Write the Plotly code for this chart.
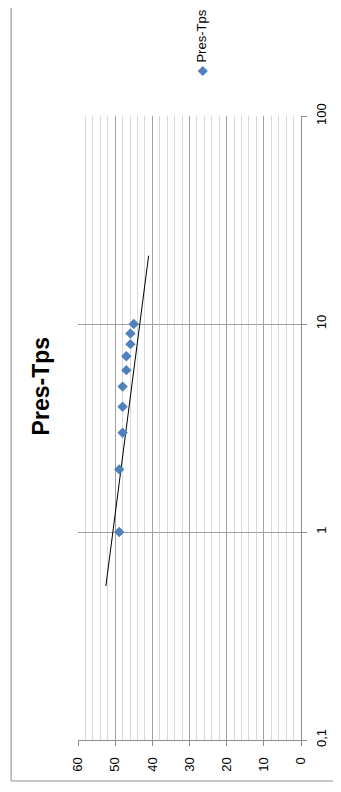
import plotly.graph_objects as go

# Data (time on log axis, pressure values)
tps = [1, 2, 3, 4, 5, 6, 7, 8, 9, 10]
pres = [48.9, 48.9, 48.0, 48.0, 48.0, 47.0, 47.0, 45.9, 45.9, 45.0]
trend_tps = [0.55, 21.3]
trend_pres = [52.5, 41.0]
val_ticks = [0, 10, 20, 30, 40, 50, 60]
log_tickvals = [0.1, 1, 10, 100]
log_ticktext = ["0,1", "1", "10", "100"]

BLUE = "#4F81BD"
GRID = "#A0A0A0"
AXIS = "#8C8C8C"
MINOR = "#D9D9D9"
FONT = "Liberation Sans, Arial, sans-serif"

OFF = 8  # browser body margin
W, H = 341 - OFF, 792 - OFF
L, R, T, B = 77.7 - OFF, 303.3 - OFF, 115.7 - OFF, 740 - OFF


def px(x):
    return (x - OFF - L) / (R - L)


def py(y):
    return (B - (y - OFF)) / (B - T)


fig = go.Figure()
fig.add_trace(go.Scatter(
    x=trend_pres, y=trend_tps, mode="lines",
    line=dict(color="black", width=1), showlegend=False, hoverinfo="skip"))
fig.add_trace(go.Scatter(
    x=pres, y=tps, mode="markers", name="Pres-Tps",
    marker=dict(symbol="diamond", size=8, color=BLUE, line=dict(width=0)),
    showlegend=False))

fig.update_layout(
    width=W, height=H,
    margin=dict(l=L, r=W - R, t=T, b=H - B, pad=0),
    paper_bgcolor="white", plot_bgcolor="white",
    font=dict(family=FONT, size=13, color="black"),
    showlegend=False,
    xaxis=dict(
        range=[60, 0], autorange=False,
        tickvals=val_ticks, ticks="outside", ticklen=5, tickcolor=AXIS,
        tickangle=-90, ticklabelstandoff=6,
        showgrid=True, gridcolor=GRID, gridwidth=1,
        minor=dict(dtick=2, showgrid=True, gridcolor=MINOR, gridwidth=1, ticks=""),
        showline=True, linecolor=AXIS, linewidth=1, zeroline=False,
        tickfont=dict(size=13),
    ),
    yaxis=dict(
        type="log", range=[-1, 2], autorange=False, side="right",
        tickvals=log_tickvals, ticktext=log_ticktext,
        ticks="outside", ticklen=5, tickcolor=AXIS, tickangle=-90,
        ticklabelstandoff=3,
        showgrid=True, gridcolor=GRID, gridwidth=1,
        showline=True, linecolor=AXIS, linewidth=1, zeroline=False,
        tickfont=dict(size=13),
    ),
)

# outer chart-area border
fig.add_shape(type="rect", xref="paper", yref="paper",
              x0=px(10), x1=px(360), y0=py(781), y1=py(-20),
              line=dict(color=AXIS, width=1), fillcolor="rgba(0,0,0,0)", layer="below")

# rotated title
fig.add_annotation(text="<b>Pres-Tps</b>", textangle=-90, showarrow=False,
                   xref="paper", yref="paper", x=px(40), y=py(386.5),
                   xanchor="center", yanchor="middle",
                   font=dict(family=FONT, size=23, color="black"))

# rotated legend
fig.add_annotation(text="<span style='color:%s'>◆</span> Pres-Tps" % BLUE,
                   textangle=-90, showarrow=False,
                   xref="paper", yref="paper", x=px(202), y=py(42),
                   xanchor="center", yanchor="middle",
                   font=dict(family=FONT, size=13, color="black"))

fig.write_html("out.html")
